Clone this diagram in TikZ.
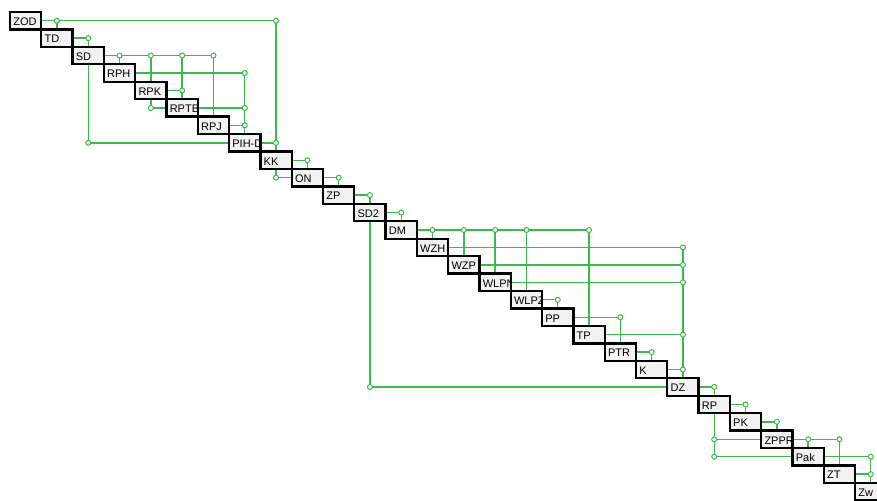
\documentclass[tikz,border=0pt]{standalone}
\usepackage{fontspec}
\setmainfont{Liberation Sans}
\pgfdeclarelayer{lines}
\pgfdeclarelayer{dots}
\pgfsetlayers{lines,dots,main}
\definecolor{lk}{RGB}{60,185,75}
\definecolor{boxfill}{RGB}{242,242,242}
\begin{document}
\begin{tikzpicture}[x=1pt,y=-1pt,
  box/.style={draw=black, line width=2.3pt, fill=boxfill, minimum width=31.3pt,
    minimum height=17.44pt, inner sep=0pt, outer sep=0pt,
    path picture={\node[anchor=base west, inner sep=0pt, minimum width=0pt, minimum height=0pt,
      draw=none, fill=none, text=black, font=\fontsize{11}{12}\selectfont]
      at ([xshift=3.3pt,yshift=-4.8pt]path picture bounding box.west) {#1};}},
  link/.style={draw=lk, line width=1.4pt},
  dot/.style={circle, draw=lk, fill=white, line width=1pt, minimum size=5pt, inner sep=0pt}]
\useasboundingbox (0,0) rectangle (877,500);
\foreach \n [count=\i from 0] in {ZOD,TD,SD,RPH,RPK,RPTB,RPJ,PIH-D,KK,ON,ZP,SD2,DM,WZH,WZP,WLPN,WLPZ,PP,TP,PTR,K,DZ,RP,PK,ZPPR,Pak,ZT,Zw}{
  \node[box=\n] (b\i) at ({25.65+31.3*\i},{20.72+17.44*\i}) {};
}
% forward links (above the steps)
\foreach \i/\j in {0/1,0/8,1/2,2/3,2/4,2/5,2/6,3/7,4/5,5/7,6/7,7/8,8/9,9/10,10/11,11/12,
  12/13,12/14,12/15,12/16,12/18,13/21,14/21,15/21,16/17,17/19,18/21,19/20,20/21,
  21/22,22/23,23/24,24/25,24/26,25/27,26/27}{
  \begin{pgfonlayer}{lines}
    \draw[link] (b\i.east) -- (b\j.north |- b\i.east) -- (b\j.north);
  \end{pgfonlayer}
  \begin{pgfonlayer}{dots}
    \node[dot] (u\i x\j) at (b\j.north |- b\i.east) {};
  \end{pgfonlayer}
}
% back links (below the steps)
\foreach \i/\j in {2/7,4/5,8/9,11/21,22/24,22/25}{
  \begin{pgfonlayer}{lines}
    \draw[link] (b\j.west) -- (b\i.south |- b\j.west) -- (b\i.south);
  \end{pgfonlayer}
  \begin{pgfonlayer}{dots}
    \node[dot] (l\i x\j) at (b\i.south |- b\j.west) {};
  \end{pgfonlayer}
}
\end{tikzpicture}
\end{document}
